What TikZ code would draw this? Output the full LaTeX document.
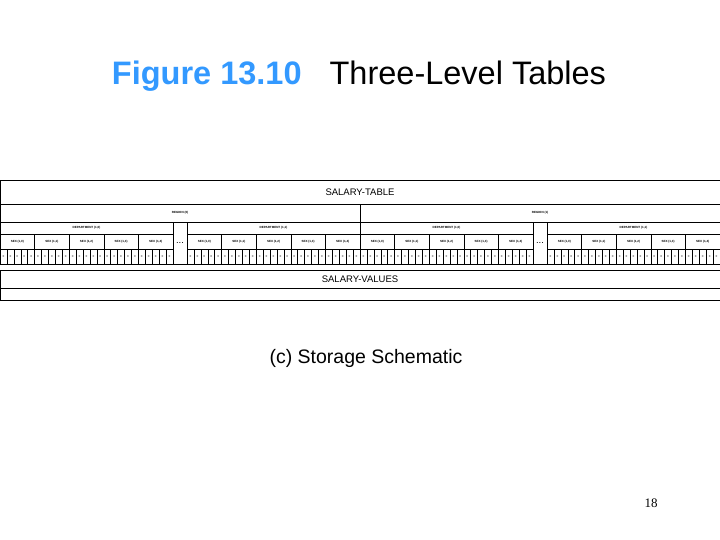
\documentclass[tikz,border=0pt]{standalone}
\usepackage{fontspec}
\setmainfont{Liberation Sans}
\newfontfamily\pagefont{Liberation Serif}
\definecolor{titleblue}{RGB}{51,153,255}
\tikzset{
  cellbox/.style = {draw=black, line width=0.5pt},
  tinylabel/.style = {font=\fontsize{3}{3}\selectfont\bfseries, inner sep=0pt},
  rowlabel/.style = {font=\fontsize{9.5}{11}\selectfont, inner sep=0pt}
}
\begin{document}
\begin{tikzpicture}[x=1pt, y=-1pt]
\useasboundingbox (0,0) rectangle (720,540);
% title
\node (title) at (359,76) {\fontsize{32.5}{36}\selectfont\textcolor{titleblue}{\bfseries Figure 13.10}\hspace{28pt}Three-Level Tables};
% outer rows
\draw[cellbox] (0,180) rectangle (722,264);
\draw[cellbox] (0,204) -- (722,204);
\draw[cellbox] (0,270) rectangle (722,300);
\draw[cellbox] (0,288) -- (722,288);
\node[rowlabel] (salarytable) at (360,192) {SALARY-TABLE};
\node[rowlabel] (salaryvalues) at (360,279) {SALARY-VALUES};
% regions
\foreach \r in {0,1}{
  \pgfmathsetmacro{\rx}{360*\r}
  \draw[cellbox] (\rx,204) rectangle ({\rx+360},264);
  \node[tinylabel] at ({\rx+180},213) {REGION (\r)};
  \draw[cellbox] (\rx,222) -- ({\rx+360},222);
  \node[rowlabel] at ({\rx+180},243) {...};
  \foreach \d in {0,1}{
    \pgfmathsetmacro{\dx}{\rx+187*\d}
    \draw[cellbox] (\dx,222) rectangle ({\dx+173},264);
    \node[tinylabel] at ({\dx+86.5},228) {DEPARTMENT (1,\d)};
    \draw[cellbox] (\dx,234) -- ({\dx+173},234);
    \draw[cellbox] (\dx,249) -- ({\dx+173},249);
    \foreach \s in {0,...,4}{
      \pgfmathsetmacro{\sx}{\dx+34.6*\s}
      \draw[cellbox] (\sx,234) -- (\sx,264);
      \node[tinylabel] at ({\sx+17.3},241.5) {SEX (1,\s)};
      \foreach \c in {1,...,4}{
        \draw[cellbox] ({\sx+6.92*\c},249) -- ({\sx+6.92*\c},264);
      }
      \foreach \c in {0,...,4}{
        \node[tinylabel] at ({\sx+6.92*\c+3.46},256.5) {>};
      }
    }
  }
}
\node (caption) at (366,358) {\fontsize{19.5}{22}\selectfont(c) Storage Schematic};
\node (pagenum) at (651,503) {\pagefont\fontsize{13}{15}\selectfont 18};
\end{tikzpicture}
\end{document}
